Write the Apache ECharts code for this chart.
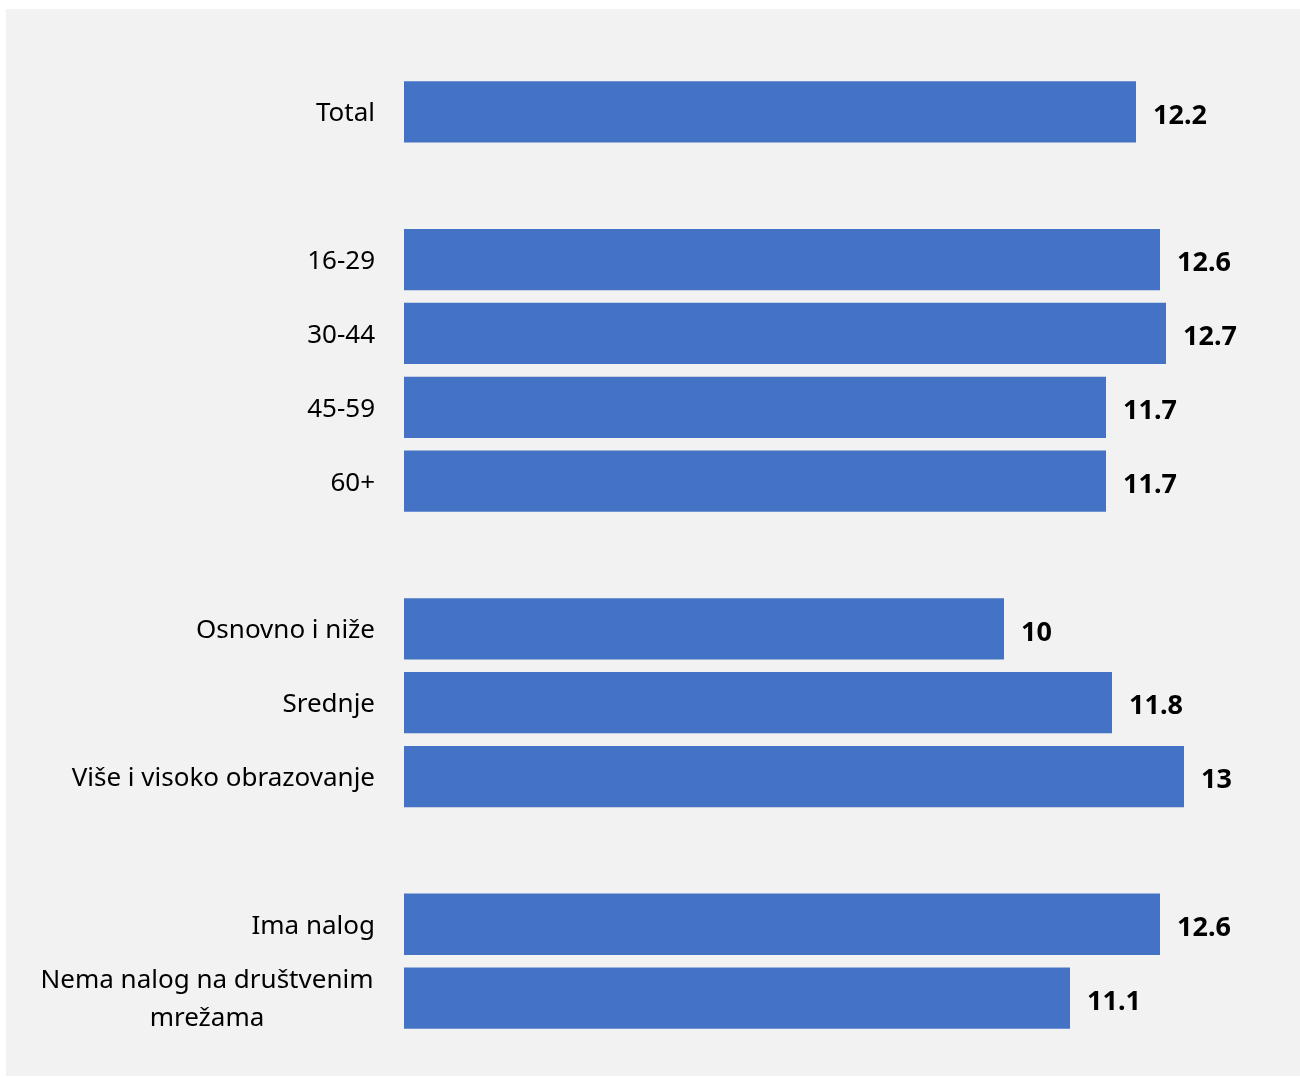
<!DOCTYPE html>
<html>
<head>
<meta charset="utf-8">
<script src="https://cdn.jsdelivr.net/npm/echarts@6/dist/echarts.min.js"></script>
<style>
  html, body { margin: 0; padding: 0; background: #ffffff; }
  #panel { position: absolute; left: 6px; top: 9px; width: 1294px; height: 1067px; background: #f2f2f2; }
  #chart { width: 100%; height: 100%; }
</style>
</head>
<body>
<div id="panel"><div id="chart"></div></div>
<script>
// categories, empty strings are the spacer rows between groups
var categories = ['Total', '', '16-29', '30-44', '45-59', '60+', '',
  'Osnovno i niže', 'Srednje', 'Više i visoko obrazovanje', '',
  'Ima nalog', 'Nema nalog na društvenim mrežama'];
var values = [12.2, null, 12.6, 12.7, 11.7, 11.7, null, 10, 11.8, 13, null, 12.6, 11.1];

var barColor = '#4472c4';
var fontFamily = '"Noto Sans", "Open Sans", sans-serif';

var myChart = echarts.init(document.getElementById('chart'));

var option = {
  animation: false,
  textStyle: { fontFamily: fontFamily },
  grid: { left: 398, top: 66, height: 960, width: 870 },
  xAxis: {
    type: 'value',
    min: 0,
    max: 14.5,
    show: false
  },
  yAxis: {
    type: 'category',
    inverse: true,
    data: categories,
    axisLine: { show: false },
    axisTick: { show: false },
    axisLabel: {
      margin: 29,
      fontSize: 26,
      color: '#000',
      fontFamily: fontFamily,
      padding: [4, 0, 0, 0],
      formatter: function (v) {
        if (v === 'Nema nalog na društvenim mrežama') {
          return '{c|Nema nalog na društvenim}\n{c|mrežama}';
        }
        return v;
      },
      rich: {
        c: { width: 336, align: 'center', fontSize: 26, lineHeight: 38, color: '#000', fontFamily: fontFamily }
      }
    }
  },
  series: [{
    type: 'bar',
    data: values,
    barCategoryGap: '17%',
    itemStyle: { color: barColor },
    label: {
      show: true,
      position: 'right',
      distance: 17,
      offset: [0, 4],
      fontSize: 27,
      fontWeight: 'bold',
      color: '#000',
      fontFamily: fontFamily
    }
  }]
};

myChart.setOption(option);
</script>
</body>
</html>
